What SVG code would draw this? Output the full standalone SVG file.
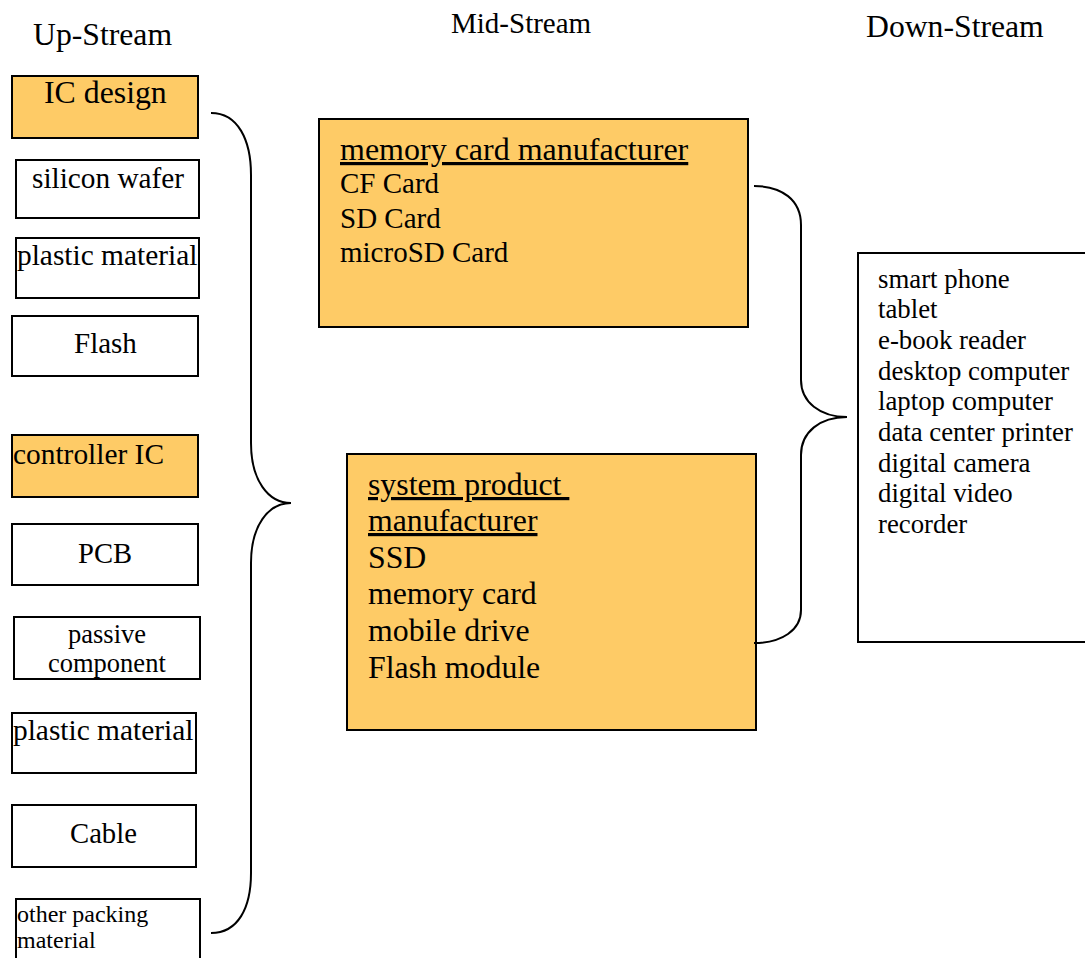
<svg xmlns="http://www.w3.org/2000/svg" width="1085" height="958" viewBox="0 0 1085 958">
<style>
text{font-family:"Liberation Serif","Times New Roman",serif;fill:#000}
.box{stroke:#000;stroke-width:2;fill:#fff}
.org{fill:#FECB66}
.brace{fill:none;stroke:#000;stroke-width:2}
.u{text-decoration:underline;white-space:pre}
</style>
<rect width="1085" height="958" fill="#fff"/>
<g id="headers">
<text x="33" y="45" font-size="31.7">Up-Stream</text>
<text x="451" y="33" font-size="29">Mid-Stream</text>
<text x="866" y="37" font-size="31.7">Down-Stream</text>
</g>
<g id="n-ic-design"><rect class="box org" x="12" y="76" width="186" height="62"/><text x="44" y="103" font-size="31.8">IC design</text></g>
<g id="n-silicon-wafer"><rect class="box" x="16" y="160" width="183" height="58"/><text x="32" y="188" font-size="29.3">silicon wafer</text></g>
<g id="n-plastic-1"><rect class="box" x="16" y="238" width="183" height="60"/><text x="17" y="265" font-size="29.4">plastic material</text></g>
<g id="n-flash"><rect class="box" x="12" y="316" width="186" height="60"/><text x="74" y="353" font-size="29">Flash</text></g>
<g id="n-controller"><rect class="box org" x="12" y="435" width="186" height="62"/><text x="13" y="464" font-size="29.4">controller IC</text></g>
<g id="n-pcb"><rect class="box" x="12" y="524" width="186" height="61"/><text x="78" y="563" font-size="28.6">PCB</text></g>
<g id="n-passive"><rect class="box" x="14" y="617" width="186" height="62"/><text x="68" y="643" font-size="26.5">passive</text><text x="48" y="672" font-size="26.5">component</text></g>
<g id="n-plastic-2"><rect class="box" x="12" y="713" width="184" height="60"/><text x="13" y="740" font-size="29.4">plastic material</text></g>
<g id="n-cable"><rect class="box" x="12" y="805" width="184" height="62"/><text x="70" y="843" font-size="28.7">Cable</text></g>
<g id="n-other"><rect class="box" x="16" y="899" width="184" height="80"/><text x="17" y="922" font-size="24">other packing</text><text x="17" y="948" font-size="24">material</text></g>
<g id="n-memory-card">
<rect class="box org" x="319" y="119" width="429" height="208"/>
<text x="340" y="160" font-size="32" class="u">memory card manufacturer</text>
<text x="340" y="193" font-size="29">CF Card</text>
<text x="340" y="228" font-size="29">SD Card</text>
<text x="340" y="262" font-size="29">microSD Card</text>
</g>
<g id="n-system-product">
<rect class="box org" x="347" y="454" width="409" height="276"/>
<text x="368" y="495" font-size="31.8" class="u">system product </text>
<text x="368" y="531" font-size="31.8" class="u">manufacturer</text>
<text x="368" y="568" font-size="31.8">SSD</text>
<text x="368" y="604" font-size="31.8">memory card</text>
<text x="368" y="641" font-size="31.8">mobile drive</text>
<text x="368" y="678" font-size="31.8">Flash module</text>
</g>
<g id="n-downstream">
<rect class="box" x="858" y="253" width="240" height="389" stroke-width="1.5"/>
<text x="878" y="288" font-size="26.8">smart phone</text>
<text x="878" y="318" font-size="26.8">tablet</text>
<text x="878" y="349" font-size="26.8">e-book reader</text>
<text x="878" y="380" font-size="26.8">desktop computer</text>
<text x="878" y="410" font-size="26.8">laptop computer</text>
<text x="878" y="441" font-size="26.8">data center printer</text>
<text x="878" y="472" font-size="26.8">digital camera</text>
<text x="878" y="502" font-size="26.8">digital video</text>
<text x="878" y="533" font-size="26.8">recorder</text>
</g>
<g id="connectors">
<path class="brace" d="M211,113 C238,113 251,140 251,175 L251,443 C251,480 268,503 291,503 C268,503 251,526 251,563 L251,873 C251,908 238,933 211,933"/>
<path class="brace" d="M754,186 C782,186 801,200 801,225 L801,380 C801,402 820,417 847,417 C820,417 801,432 801,455 L801,610 C801,630 782,643 754,643"/>
</g>
</svg>
